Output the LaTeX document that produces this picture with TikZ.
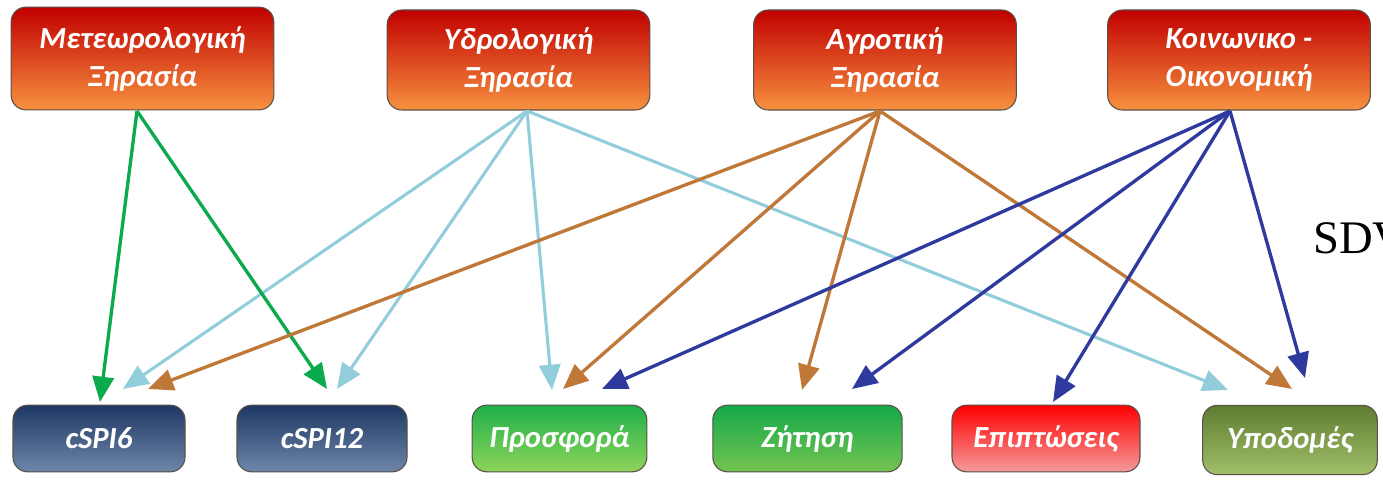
\documentclass[tikz,border=0pt]{standalone}
\usepackage{fontspec}
\setmainfont{Carlito}
\newfontfamily\sdvfont{Liberation Serif}
\usetikzlibrary{arrows.meta}
\definecolor{topA}{HTML}{C00000}
\definecolor{topB}{HTML}{F7913F}
\definecolor{navyA}{HTML}{1F3864}
\definecolor{navyB}{HTML}{6E86A8}
\definecolor{grnA}{HTML}{1FB04A}
\definecolor{grnB}{HTML}{8ED45A}
\definecolor{grn2A}{HTML}{14A84A}
\definecolor{grn2B}{HTML}{74C451}
\definecolor{redA}{HTML}{FF0000}
\definecolor{redB}{HTML}{F49A9A}
\definecolor{olvA}{HTML}{5E7D31}
\definecolor{olvB}{HTML}{A3BF6A}
\definecolor{cGreen}{HTML}{0BAA4B}
\definecolor{cLblue}{HTML}{92CDDC}
\definecolor{cBrown}{HTML}{C07838}
\definecolor{cDblue}{HTML}{2E3A9E}
\definecolor{edge}{HTML}{5A5048}
\tikzset{
  box/.style={rounded corners=11pt, draw=edge, line width=0.8pt, align=center,
    text=white, font=\fontsize{23}{28.5}\selectfont\bfseries\itshape, inner sep=0pt},
  topbox/.style={box, top color=topA, bottom color=topB, minimum width=197pt, minimum height=75pt},
  botbox/.style={box, minimum height=50pt},
  conn/.style={line width=2.5pt, -{Triangle[length=19pt,width=16pt]}},
}
\begin{document}
\begin{tikzpicture}[x=0.75pt,y=-0.75pt]
\useasboundingbox (0,0) rectangle (1383,488);
\fill[white] (0,0) rectangle (1383,488);
% top boxes
\node[topbox, minimum height=77pt] (meteo) at (142.5,58.5) {Μετεωρολογική\\Ξηρασία};
\node[topbox] (hydro) at (518.5,60) {Υδρολογική\\Ξηρασία};
\node[topbox] (agro) at (885,60) {Αγροτική\\Ξηρασία};
\node[topbox] (socio) at (1239,60) {Κοινωνικο -\\Οικονομική};
% bottom boxes
\node[botbox, top color=navyA, bottom color=navyB, minimum width=129pt] (cspi6) at (99,438.5) {cSPI6};
\node[botbox, top color=navyA, bottom color=navyB, minimum width=127.5pt] (cspi12) at (322,438.5) {cSPI12};
\node[botbox, top color=grnA, bottom color=grnB, minimum width=131pt] (prosf) at (559.5,438.5) {Προσφορά};
\node[botbox, top color=grn2A, bottom color=grn2B, minimum width=142pt] (zitisi) at (807.5,438.5) {Ζήτηση};
\node[botbox, top color=redA, bottom color=redB, minimum width=141pt] (epipt) at (1046,438.5) {Επιπτώσεις};
\node[botbox, top color=olvA, bottom color=olvB, minimum width=131pt, minimum height=52pt] (ypod) at (1290,440) {Υποδομές};
% side text (cut by the right edge, as in the reference)
\node[anchor=base west, inner sep=0pt, font=\sdvfont\fontsize{35}{40}\selectfont] (sdv) at (1313,253) {SDV};
% connector start points
\coordinate (mS) at (137,111);
\coordinate (hS) at (527,111);
\coordinate (aS) at (880,111);
\coordinate (sS) at (1230,111);
% connector end points
\coordinate (c6g) at (100,402);
\coordinate (c6l) at (123,389);
\coordinate (c6b) at (148,389);
\coordinate (c12g) at (327,389);
\coordinate (c12l) at (337,389);
\coordinate (prl) at (552,390);
\coordinate (prb) at (563,389);
\coordinate (prd) at (602,389);
\coordinate (zib) at (802,390);
\coordinate (zid) at (852,389);
\coordinate (epd) at (1053,402);
\coordinate (ypl) at (1228,390);
\coordinate (ypb) at (1292,389);
\coordinate (ypd) at (1305,378);
% connectors
\draw[conn, cLblue, line width=2.3pt] (hS) -- (c6l);
\draw[conn, cLblue, line width=2.3pt] (hS) -- (c12l);
\draw[conn, cLblue, line width=2.3pt] (hS) -- (prl);
\draw[conn, cLblue, line width=2.3pt] (hS) -- (ypl);
\draw[conn, cGreen] (mS) -- (c6g);
\draw[conn, cGreen] (mS) -- (c12g);
\draw[conn, cBrown] (aS) -- (c6b);
\draw[conn, cBrown] (aS) -- (prb);
\draw[conn, cBrown] (aS) -- (zib);
\draw[conn, cBrown] (aS) -- (ypb);
\draw[conn, cDblue] (sS) -- (prd);
\draw[conn, cDblue] (sS) -- (zid);
\draw[conn, cDblue] (sS) -- (epd);
\draw[conn, cDblue] (sS) -- (ypd);
\end{tikzpicture}
\end{document}
